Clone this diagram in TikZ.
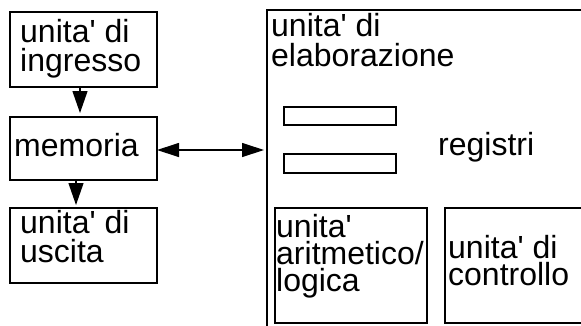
\documentclass[tikz,border=0pt]{standalone}
\usepackage{fontspec}
\setmainfont{Liberation Sans}
\usetikzlibrary{arrows.meta}
\newcommand{\ap}{\textquotesingle}
\begin{document}
\begin{tikzpicture}[x=1pt,y=-1pt,
  box/.style={draw, line width=1.4pt, inner sep=0pt, outer sep=0pt, anchor=north west},
  txt/.style={inner sep=0pt, anchor=base west, text height=21pt, text depth=4pt,
    font=\fontsize{32}{29}\selectfont},
  arr/.style={line width=1.2pt, -{Triangle[length=22pt,width=15pt]}},
  darr/.style={line width=1.2pt, {Triangle[length=22pt,width=14pt]}-{Triangle[length=22pt,width=14pt]}}]
  \useasboundingbox (0,0) rectangle (581,325);
  \clip (0,0) rectangle (581,325);

  % left column: input, memory, output
  \node[box, minimum width=147pt, minimum height=75pt] (inbox) at (10,12) {};
  \node[box, minimum width=147pt, minimum height=63pt] (mem) at (10,117) {};
  \node[box, minimum width=147pt, minimum height=75pt] (outbox) at (10,208) {};

  \node[txt] (in1) at (20,42) {unita\ap{} di};
  \node[txt] (in2) at (20,71) {ingresso};
  \node[txt] (mem1) at (14,156) {memoria};
  \node[txt] (out1) at (20,233) {unita\ap{} di};
  \node[txt] (out2) at (20,262) {uscita};

  % processing unit (runs past the right and bottom edges)
  \node[box, minimum width=360pt, minimum height=340pt] (cpu) at (267,10) {};
  \node[txt] (cpu1) at (271,36) {unita\ap{} di};
  \node[txt] (cpu2) at (271,66) {elaborazione};

  % registers
  \node[box, minimum width=112pt, minimum height=18pt] (reg1) at (284,107) {};
  \node[box, minimum width=112pt, minimum height=19pt] (reg2) at (284,154) {};
  \node[txt] (regt) at (438,155) {registri};

  % arithmetic/logic unit and control unit
  \node[box, minimum width=152pt, minimum height=115pt] (alu) at (275,208) {};
  \node[txt] (alu1) at (276,237) {unita\ap};
  \node[txt] (alu2) at (276,264) {aritmetico/};
  \node[txt] (alu3) at (276,291) {logica};

  \node[box, minimum width=160pt, minimum height=115pt] (cu) at (445,208) {};
  \node[txt] (cu1) at (448,258) {unita\ap{} di};
  \node[txt] (cu2) at (448,285) {controllo};

  % connectors
  \draw[arr, shorten >=4pt] ([xshift=-3.5pt]inbox.south) -- ([xshift=-3.5pt]mem.north);
  \draw[arr, shorten >=3pt] ([xshift=-7.5pt]mem.south) -- ([xshift=-7.5pt]outbox.north);
  \draw[darr, shorten >=3pt] ([yshift=-1.5pt]mem.east) -- ([yshift=-1.5pt]mem.east -| cpu.west);
\end{tikzpicture}
\end{document}
